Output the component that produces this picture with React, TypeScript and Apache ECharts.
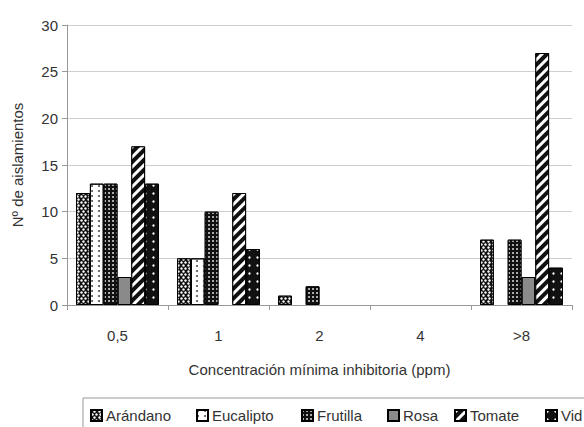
import React, { useEffect, useRef } from "react";
import * as echarts from "echarts";

const categories = ["0,5", "1", "2", "4", ">8"];
const seriesNames = ["Arándano", "Eucalipto", "Frutilla", "Rosa", "Tomate", "Vid"];
const arandano = [12, 5, 1, 0, 7];
const eucalipto = [13, 5, 0, 0, 0];
const frutilla = [13, 10, 2, 0, 7];
const rosa = [3, 0, 0, 0, 3];
const tomate = [17, 12, 0, 0, 27];
const vid = [13, 6, 0, 0, 4];
const yTicks = { min: 0, max: 30, interval: 5 };
const legendLefts = [90, 196, 301, 387, 454, 545];

const FONT = "'Liberation Sans', Arial, sans-serif";
const TEXT = "#333";
const FS = 15;

export default function App() {
  const ref = useRef<HTMLDivElement>(null);
  useEffect(() => {
    if (!ref.current) return;
    const chart = echarts.init(ref.current, null, { renderer: "svg" });
    const values = [arandano, eucalipto, frutilla, rosa, tomate, vid];
    const styles: any[] = [
      { color: "#111", decal: { symbol: "circle", symbolSize: 0.85, color: "#fff", dashArrayX: [[3, 1], [0, 2, 3, 0]], dashArrayY: [3, 0] } },
      { color: "#fff", decal: { symbol: "circle", symbolSize: 1, color: "#555", dashArrayX: [2, 5], dashArrayY: [2, 3] } },
      { color: "#111", decal: { symbol: "circle", symbolSize: 0.8, color: "#fff", dashArrayX: [2, 2], dashArrayY: [2, 2] } },
      { color: "#8a8a8a", decal: { symbol: "none", dashArrayX: [1, 0], dashArrayY: [1, 0], color: "rgba(0,0,0,0)" } },
      { color: "#111", decal: { symbol: "rect", symbolSize: 1, color: "#fff", dashArrayX: [1, 0], dashArrayY: [3, 4], rotation: -Math.PI / 4 } },
      { color: "#111", decal: { symbol: "circle", symbolSize: 0.8, color: "#fff", dashArrayX: [3, 5], dashArrayY: [3, 5] } },
    ];
    const series = seriesNames.map((name, i) => ({
      name,
      type: "bar",
      data: values[i].map((v) => (v === 0 ? null : v)),
      barGap: "0%",
      barCategoryGap: "18%",
      itemStyle: { ...styles[i], borderColor: "#000", borderWidth: 1 },
    }));
    const legends = seriesNames.map((name, i) => ({
      data: [name],
      left: legendLefts[i],
      top: 408,
      padding: 0,
      itemWidth: 11,
      itemHeight: 11,
      itemGap: 0,
      icon: "rect",
      textStyle: { fontFamily: FONT, fontSize: FS, color: TEXT, padding: [0, 0, 0, -1] },
    }));
    chart.setOption({
      animation: false,
      backgroundColor: "#fff",
      grid: { left: 67, right: 12, top: 25, bottom: 122, containLabel: false },
      legend: legends,
      graphic: [
        {
          type: "rect",
          shape: { x: 83, y: 398, width: 600, height: 60 },
          style: { fill: "none", stroke: "#999", lineWidth: 1 },
          silent: true,
        },
      ],
      xAxis: {
        type: "category",
        data: categories,
        name: "Concentración mínima inhibitoria (ppm)",
        nameLocation: "middle",
        nameGap: 57,
        nameTextStyle: { fontFamily: FONT, fontSize: FS, color: TEXT },
        axisLine: { lineStyle: { color: "#999" } },
        axisTick: { show: true, length: 5, lineStyle: { color: "#999" } },
        axisLabel: { fontFamily: FONT, fontSize: FS, color: TEXT, margin: 23 },
      },
      yAxis: {
        type: "value",
        min: yTicks.min,
        max: yTicks.max,
        interval: yTicks.interval,
        name: "Nº de aislamientos",
        nameLocation: "middle",
        nameGap: 42,
        nameTextStyle: { fontFamily: FONT, fontSize: FS, color: TEXT },
        axisLine: { show: true, lineStyle: { color: "#999" } },
        axisTick: { show: true, length: 5, lineStyle: { color: "#999" } },
        axisLabel: { fontFamily: FONT, fontSize: FS, color: TEXT, margin: 9 },
        splitLine: { lineStyle: { color: "#cfcfcf" } },
      },
      series,
    });
    return () => chart.dispose();
  }, []);
  return (
    <div
      ref={ref}
      style={{ position: "fixed", left: 0, top: 0, width: 584, height: 427 }}
    />
  );
}
